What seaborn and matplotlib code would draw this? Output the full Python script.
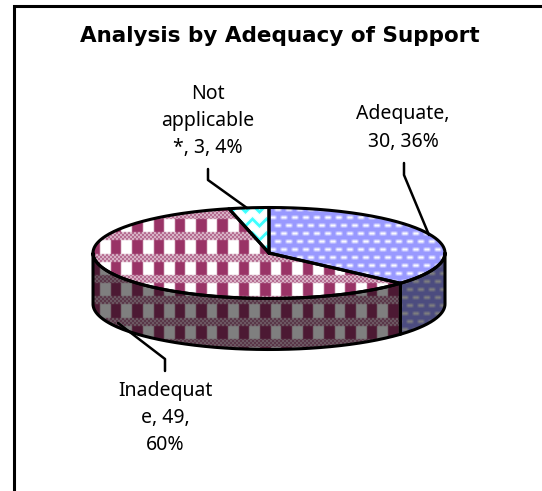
# 3D-Kreisdiagramm: Analysis by Adequacy of Support

import numpy as np
import matplotlib
matplotlib.use('Agg')
import matplotlib.pyplot as plt
from matplotlib.patches import Polygon
import seaborn as sns

# Daten
kategorien = ['Adequate', 'Inadequate', 'Not applicable *']
werte = [30, 49, 3]
prozent = ['36%', '60%', '4%']

titel = 'Analysis by Adequacy of Support'
label_adequate = 'Adequate,\n30, 36%'
label_inadequate = 'Inadequat\ne, 49,\n60%'
label_na = 'Not\napplicable\n*, 3, 4%'

farben = sns.color_palette(['#9999FF', '#993366', '#33FFFF'])

sns.set_theme(style='white')
plt.rcParams['font.family'] = ['Noto Sans', 'DejaVu Sans']
plt.rcParams['text.color'] = 'black'

B, H = 542, 491
fig = plt.figure(figsize=(B / 100, H / 100), dpi=100)
ax = fig.add_axes([0, 0, 1, 1])
ax.set_xlim(0, B)
ax.set_ylim(H, 0)
ax.axis('off')

# Geometrie der Ellipse in Pixeln
cx, cy, rx, ry, tiefe = 269, 253, 176, 45.5, 51


# Weichzeichnen, damit das Muster nicht so hart aussieht
def weich(img, anteil=0.5):
    aus = img.copy()
    for achse in (0, 1):
        aus = (aus + np.roll(aus, 1, axis=achse) + np.roll(aus, -1, axis=achse)) / 3
    return (1 - anteil) * img + anteil * aus


# Muster erzeugen
def muster_plaid(farbe):
    img = np.ones((H, B, 3))
    f = np.array(farbe)
    yy, xx = np.mgrid[0:H, 0:B]
    balken = ((xx - 3.7) % 21.33) < 10.5
    band = ((yy + 2.7) % 21.33) < 8
    punkte = ((xx // 2 + yy // 2) % 2 == 0)
    img[balken & ~band] = f
    img[band & punkte] = f * 0.85 + 0.15
    img[band & ~punkte] = f * 0.25 + 0.75
    return weich(img)


def muster_punkte(farbe):
    img = np.ones((H, B, 3)) * np.array(farbe)
    yy, xx = np.mgrid[0:H, 0:B]
    zeile = (yy // 8)
    versatz = (zeile % 2) * 5.5
    an = (((xx + versatz) % 11) < 6) & ((yy % 8) < 3)
    img[an] = np.array(farbe) * 0.05 + 0.95
    return weich(img, 0.9)


def muster_zickzack(farbe):
    img = np.ones((H, B, 3))
    yy, xx = np.mgrid[0:H, 0:B]
    dreieck = np.abs(((xx % 14) - 7))
    an = ((yy + dreieck) % 14) < 3.5
    img[an] = farbe
    return weich(img)


def ellipsenpunkt(winkel):
    # Winkel in Grad, im Uhrzeigersinn von oben
    w = np.radians(winkel)
    return cx + rx * np.sin(w), cy - ry * np.cos(w)


def fuellen(punkte, bild, dunkel=1.0):
    poly = Polygon(punkte, closed=True, facecolor='none', edgecolor='none')
    ax.add_patch(poly)
    im = ax.imshow(bild * dunkel, extent=(0, B, H, 0), interpolation='nearest', zorder=1, aspect='auto')
    im.set_clip_path(poly)
    ax.set_xlim(0, B)
    ax.set_ylim(H, 0)


muster = [muster_punkte(farben[0]), muster_plaid(farben[1]), muster_zickzack(farben[2])]

# Winkel aus den Werten
anteile = np.array(werte) / sum(werte) * 360
grenzen = np.concatenate([[0], np.cumsum(anteile)])

# Seitenwände (nur sichtbarer Bereich 90-270 Grad)
for i in range(len(werte)):
    a = max(grenzen[i], 90)
    b = min(grenzen[i + 1], 270)
    if b <= a:
        continue
    w = np.linspace(a, b, 120)
    x, y = ellipsenpunkt(w)
    oben = np.column_stack([x, y])
    unten = np.column_stack([x, y + tiefe])[::-1]
    wand = np.vstack([oben, unten])
    fuellen(wand, muster[i], dunkel=0.5)
    ax.plot(wand[:, 0].tolist() + [wand[0, 0]], wand[:, 1].tolist() + [wand[0, 1]], color='black', lw=2.2, zorder=3)

# Oberseite
for i in range(len(werte)):
    w = np.linspace(grenzen[i], grenzen[i + 1], 200)
    x, y = ellipsenpunkt(w)
    punkte = np.vstack([[cx, cy], np.column_stack([x, y])])
    fuellen(punkte, muster[i])
    ax.plot(punkte[:, 0].tolist() + [cx], punkte[:, 1].tolist() + [cy], color='black', lw=2.2, zorder=4)

# Rahmen: links und oben, rechts offen
ax.plot([14, 14, B], [H, 6, 6], color='black', lw=2.2, zorder=5, solid_joinstyle='miter')

# Texte
ax.text(280, 36, titel, ha='center', va='center', fontsize=15.5, fontweight='bold', color='black',
        family=['DejaVu Sans'])
ax.text(208, 121, label_na, ha='center', va='center', fontsize=14, linespacing=1.47, color='black')
ax.text(403, 128, label_adequate, ha='center', va='center', fontsize=14, linespacing=1.47, color='black')
ax.text(165, 418, label_inadequate, ha='center', va='center', fontsize=14, linespacing=1.47, color='black')

# Führungslinien
ax.plot([208, 208, 247], [169, 180, 208], color='black', lw=1.8, zorder=6)
ax.plot([404, 404, 429], [163, 175, 235], color='black', lw=1.8, zorder=6)
ax.plot([165, 165, 118], [371, 359, 323], color='black', lw=1.8, zorder=6)

fig.savefig('out.png', dpi=100)
